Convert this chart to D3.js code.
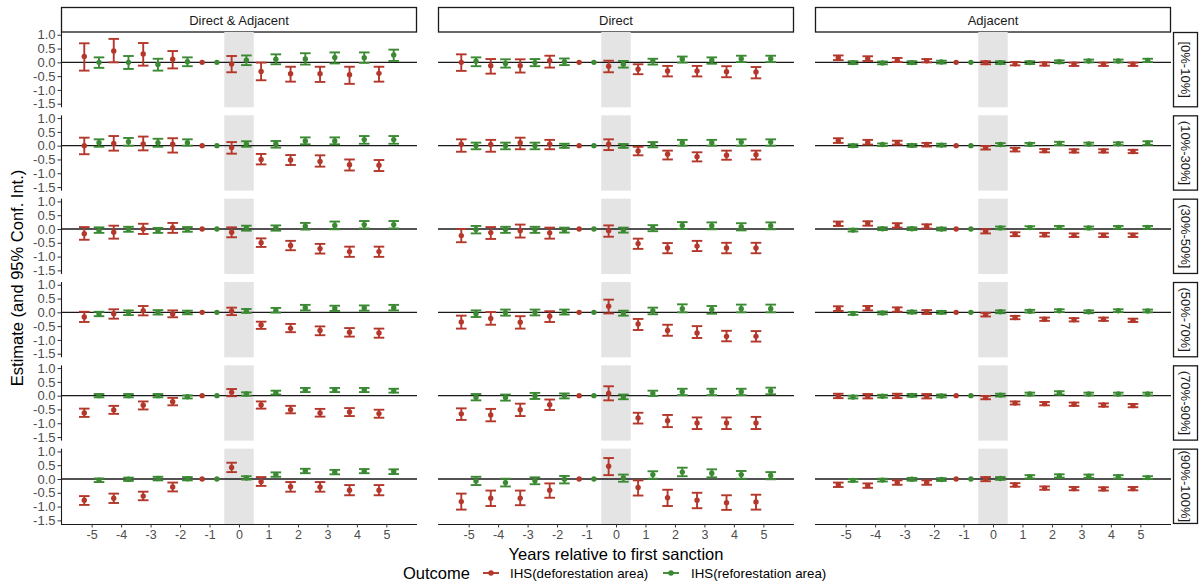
<!DOCTYPE html>
<html>
<head>
<meta charset="utf-8">
<script src="https://cdn.jsdelivr.net/npm/d3@7"></script>
<style>
    body { margin: 0; background: #ffffff; }
    #chart-event-study { width: 1200px; height: 588px; }
    text { font-family: "Liberation Sans", Arial, Helvetica, sans-serif; }
</style>
</head>
<body>
<div id="chart-event-study"></div>
<script>
// 연도, 패널 이름
var years = [-5, -4, -3, -2, -1, 0, 1, 2, 3, 4, 5];
var columnNames = ["Direct & Adjacent", "Direct", "Adjacent"];
var rowNames = ["[0%-10%]", "(10%-30%]", "(30%-50%]", "(50%-70%]", "(70%-90%]", "(90%-100%]"];
var outcomeNames = ["IHS(deforestation area)", "IHS(reforestation area)"];
var yTicks = [1.0, 0.5, 0.0, -0.5, -1.0, -1.5];

// [estimate, lower, upper] per year, one row per bin
var deforDirectAdj = [
    [[0.21,-0.30,0.69],[0.41,0.00,0.85],[0.30,-0.12,0.70],[0.11,-0.22,0.41],[0,0,0],[-0.06,-0.36,0.23],[-0.33,-0.65,-0.01],[-0.41,-0.70,-0.16],[-0.41,-0.71,-0.16],[-0.45,-0.78,-0.16],[-0.40,-0.70,-0.16]],
    [[0.00,-0.31,0.29],[0.08,-0.18,0.35],[0.06,-0.17,0.33],[0.05,-0.25,0.27],[0,0,0],[-0.07,-0.29,0.13],[-0.50,-0.68,-0.30],[-0.52,-0.70,-0.34],[-0.57,-0.76,-0.35],[-0.69,-0.90,-0.50],[-0.71,-0.92,-0.52]],
    [[-0.17,-0.39,0.07],[-0.12,-0.35,0.12],[0.00,-0.18,0.19],[0.05,-0.14,0.22],[0,0,0],[-0.12,-0.30,0.06],[-0.50,-0.65,-0.34],[-0.60,-0.77,-0.43],[-0.71,-0.89,-0.54],[-0.82,-1.01,-0.64],[-0.82,-1.01,-0.64]],
    [[-0.17,-0.35,0.02],[-0.05,-0.23,0.11],[0.06,-0.11,0.23],[-0.06,-0.18,0.07],[0,0,0],[0.04,-0.10,0.17],[-0.46,-0.60,-0.34],[-0.58,-0.72,-0.42],[-0.66,-0.83,-0.51],[-0.72,-0.88,-0.57],[-0.75,-0.92,-0.59]],
    [[-0.63,-0.77,-0.47],[-0.52,-0.66,-0.37],[-0.35,-0.50,-0.21],[-0.22,-0.35,-0.08],[0,0,0],[0.12,-0.02,0.24],[-0.34,-0.47,-0.21],[-0.51,-0.64,-0.37],[-0.63,-0.76,-0.48],[-0.59,-0.74,-0.45],[-0.65,-0.80,-0.51]],
    [[-0.77,-0.94,-0.62],[-0.70,-0.87,-0.53],[-0.62,-0.77,-0.46],[-0.29,-0.45,-0.13],[0,0,0],[0.42,0.25,0.59],[-0.10,-0.25,0.07],[-0.28,-0.46,-0.11],[-0.29,-0.46,-0.11],[-0.41,-0.59,-0.22],[-0.41,-0.59,-0.22]]
];
var reforDirectAdj = [
    [[0.00,-0.20,0.18],[0.00,-0.24,0.23],[-0.08,-0.30,0.13],[0.02,-0.14,0.18],[0,0,0],[0.08,-0.10,0.25],[0.11,-0.07,0.29],[0.12,-0.08,0.33],[0.18,-0.04,0.36],[0.17,-0.02,0.36],[0.27,0.05,0.46]],
    [[0.11,-0.04,0.23],[0.14,0.00,0.28],[0.11,-0.04,0.25],[0.11,0.00,0.23],[0,0,0],[0.06,-0.04,0.16],[0.06,-0.07,0.17],[0.17,0.05,0.30],[0.17,0.05,0.30],[0.22,0.07,0.35],[0.22,0.07,0.35]],
    [[-0.05,-0.14,0.06],[0.00,-0.10,0.08],[-0.06,-0.14,0.04],[-0.01,-0.10,0.07],[0,0,0],[0.04,-0.06,0.12],[0.04,-0.06,0.13],[0.10,-0.02,0.22],[0.13,-0.01,0.27],[0.16,0.02,0.29],[0.16,0.02,0.29]],
    [[-0.06,-0.14,0.02],[0.00,-0.10,0.07],[0.00,-0.08,0.08],[0.00,-0.07,0.06],[0,0,0],[0.06,-0.02,0.12],[0.07,-0.01,0.16],[0.17,0.07,0.27],[0.14,0.05,0.24],[0.16,0.06,0.25],[0.17,0.07,0.27]],
    [[0.00,-0.06,0.06],[0.00,-0.06,0.06],[0.00,-0.06,0.06],[-0.04,-0.10,0.01],[0,0,0],[0.06,0.00,0.12],[0.11,0.04,0.18],[0.21,0.13,0.28],[0.21,0.13,0.28],[0.21,0.13,0.28],[0.18,0.11,0.25]],
    [[-0.04,-0.11,0.02],[-0.01,-0.07,0.05],[0.02,-0.05,0.08],[0.01,-0.05,0.07],[0,0,0],[0.04,-0.02,0.10],[0.16,0.08,0.24],[0.29,0.21,0.37],[0.25,0.17,0.33],[0.28,0.21,0.36],[0.27,0.18,0.35]]
];
var deforDirect = [
    [[0.00,-0.31,0.29],[-0.12,-0.41,0.12],[-0.12,-0.37,0.11],[0.06,-0.19,0.24],[0,0,0],[-0.14,-0.36,0.06],[-0.25,-0.43,-0.07],[-0.31,-0.51,-0.13],[-0.31,-0.51,-0.13],[-0.34,-0.54,-0.14],[-0.35,-0.58,-0.17]],
    [[0.05,-0.22,0.23],[0.04,-0.22,0.21],[0.11,-0.13,0.29],[0.05,-0.13,0.21],[0,0,0],[0.05,-0.16,0.23],[-0.19,-0.35,-0.04],[-0.31,-0.50,-0.18],[-0.40,-0.57,-0.24],[-0.35,-0.51,-0.18],[-0.33,-0.50,-0.18]],
    [[-0.24,-0.48,0.00],[-0.13,-0.36,0.07],[-0.06,-0.31,0.16],[-0.14,-0.35,0.05],[0,0,0],[-0.06,-0.28,0.13],[-0.53,-0.72,-0.35],[-0.69,-0.88,-0.51],[-0.62,-0.80,-0.43],[-0.69,-0.88,-0.50],[-0.69,-0.88,-0.50]],
    [[-0.35,-0.59,-0.12],[-0.22,-0.45,0.01],[-0.36,-0.59,-0.14],[-0.14,-0.35,0.04],[0,0,0],[0.22,-0.04,0.46],[-0.42,-0.64,-0.24],[-0.66,-0.85,-0.45],[-0.75,-0.93,-0.50],[-0.87,-1.05,-0.67],[-0.87,-1.06,-0.68]],
    [[-0.66,-0.88,-0.46],[-0.70,-0.93,-0.48],[-0.51,-0.74,-0.29],[-0.33,-0.52,-0.14],[0,0,0],[0.08,-0.17,0.34],[-0.81,-1.01,-0.62],[-0.91,-1.14,-0.70],[-0.99,-1.21,-0.79],[-0.99,-1.21,-0.79],[-0.99,-1.21,-0.77]],
    [[-0.82,-1.11,-0.53],[-0.70,-0.98,-0.42],[-0.70,-0.95,-0.42],[-0.41,-0.68,-0.16],[0,0,0],[0.46,0.14,0.76],[-0.31,-0.60,-0.05],[-0.68,-0.98,-0.39],[-0.77,-1.06,-0.50],[-0.86,-1.12,-0.59],[-0.83,-1.11,-0.57]]
];
var reforDirect = [
    [[0.04,-0.14,0.18],[-0.04,-0.19,0.11],[-0.01,-0.14,0.12],[0.02,-0.10,0.14],[0,0,0],[-0.07,-0.19,0.05],[0.05,-0.08,0.13],[0.11,-0.01,0.21],[0.08,-0.05,0.18],[0.13,0.01,0.24],[0.13,0.01,0.24]],
    [[0.00,-0.13,0.11],[0.00,-0.13,0.11],[0.00,-0.13,0.11],[0.00,-0.08,0.07],[0,0,0],[0.00,-0.08,0.06],[0.05,-0.06,0.13],[0.11,0.00,0.21],[0.11,0.00,0.21],[0.13,0.00,0.23],[0.13,0.00,0.23]],
    [[-0.02,-0.16,0.11],[-0.02,-0.14,0.08],[-0.02,-0.14,0.08],[-0.04,-0.13,0.05],[0,0,0],[-0.04,-0.13,0.05],[0.04,-0.08,0.14],[0.13,0.00,0.25],[0.12,-0.01,0.24],[0.08,-0.05,0.21],[0.12,-0.01,0.24]],
    [[-0.05,-0.17,0.07],[-0.01,-0.12,0.10],[0.00,-0.11,0.10],[0.01,-0.08,0.10],[0,0,0],[-0.02,-0.12,0.06],[0.05,-0.07,0.17],[0.13,0.00,0.29],[0.10,-0.05,0.23],[0.13,0.00,0.28],[0.13,0.00,0.28]],
    [[-0.06,-0.17,0.06],[-0.07,-0.18,0.04],[-0.01,-0.12,0.10],[0.00,-0.10,0.08],[0,0,0],[-0.05,-0.13,0.04],[0.08,-0.01,0.18],[0.14,0.02,0.25],[0.14,0.02,0.25],[0.14,0.02,0.25],[0.17,0.05,0.29]],
    [[-0.07,-0.22,0.08],[-0.13,-0.27,0.01],[-0.06,-0.19,0.06],[-0.01,-0.16,0.11],[0,0,0],[0.04,-0.10,0.16],[0.16,0.01,0.28],[0.25,0.10,0.41],[0.21,0.06,0.35],[0.16,0.01,0.29],[0.13,-0.01,0.25]]
];
var deforAdj = [
    [[0.17,0.08,0.25],[0.13,0.05,0.22],[0.08,0.01,0.16],[0.06,0.00,0.12],[0,0,0],[-0.01,-0.07,0.04],[-0.05,-0.11,0.01],[-0.06,-0.12,0.00],[-0.07,-0.13,-0.01],[-0.07,-0.13,-0.01],[-0.07,-0.13,-0.01]],
    [[0.18,0.10,0.27],[0.12,0.04,0.21],[0.11,0.04,0.18],[0.04,-0.03,0.10],[0,0,0],[-0.07,-0.14,-0.01],[-0.14,-0.21,-0.08],[-0.18,-0.24,-0.12],[-0.19,-0.25,-0.13],[-0.19,-0.25,-0.13],[-0.21,-0.27,-0.15]],
    [[0.19,0.11,0.27],[0.21,0.12,0.28],[0.13,0.05,0.21],[0.10,0.02,0.17],[0,0,0],[-0.08,-0.16,-0.01],[-0.19,-0.26,-0.12],[-0.21,-0.27,-0.14],[-0.23,-0.29,-0.16],[-0.23,-0.29,-0.16],[-0.23,-0.29,-0.16]],
    [[0.13,0.05,0.22],[0.16,0.07,0.23],[0.10,0.02,0.18],[0.01,-0.06,0.08],[0,0,0],[-0.08,-0.15,-0.02],[-0.19,-0.25,-0.13],[-0.25,-0.31,-0.19],[-0.27,-0.33,-0.21],[-0.25,-0.31,-0.19],[-0.29,-0.35,-0.23]],
    [[-0.01,-0.09,0.07],[-0.02,-0.10,0.06],[-0.01,-0.09,0.07],[-0.02,-0.10,0.06],[0,0,0],[-0.07,-0.13,-0.01],[-0.27,-0.32,-0.21],[-0.29,-0.35,-0.23],[-0.31,-0.37,-0.25],[-0.34,-0.40,-0.28],[-0.36,-0.42,-0.30]],
    [[-0.21,-0.29,-0.13],[-0.24,-0.32,-0.16],[-0.13,-0.21,-0.05],[-0.13,-0.21,-0.05],[0,0,0],[0.00,-0.08,0.07],[-0.22,-0.28,-0.15],[-0.33,-0.39,-0.27],[-0.35,-0.41,-0.29],[-0.36,-0.42,-0.30],[-0.35,-0.41,-0.29]]
];
var reforAdj = [
    [[-0.01,-0.06,0.04],[-0.02,-0.07,0.03],[-0.01,-0.06,0.04],[0.01,-0.04,0.06],[0,0,0],[-0.01,-0.06,0.04],[-0.01,-0.06,0.04],[0.02,-0.03,0.07],[0.05,0.00,0.10],[0.05,0.00,0.10],[0.07,0.01,0.13]],
    [[0.00,-0.05,0.05],[0.04,-0.01,0.08],[0.01,-0.04,0.06],[0.02,-0.03,0.07],[0,0,0],[0.04,-0.01,0.09],[0.05,0.00,0.10],[0.08,0.02,0.14],[0.06,0.01,0.11],[0.07,0.02,0.12],[0.10,0.03,0.16]],
    [[-0.04,-0.09,0.01],[0.01,-0.04,0.06],[0.01,-0.04,0.06],[0.00,-0.05,0.05],[0,0,0],[0.04,-0.01,0.09],[0.05,0.00,0.10],[0.06,0.01,0.11],[0.04,-0.01,0.09],[0.06,0.01,0.11],[0.06,0.01,0.11]],
    [[-0.04,-0.09,0.01],[-0.02,-0.07,0.03],[0.01,-0.04,0.06],[0.00,-0.05,0.05],[0,0,0],[0.02,-0.03,0.07],[0.04,-0.01,0.09],[0.06,0.01,0.11],[0.02,-0.03,0.07],[0.06,0.01,0.11],[0.05,0.00,0.10]],
    [[-0.05,-0.10,0.00],[-0.02,-0.07,0.03],[0.01,-0.04,0.06],[-0.01,-0.06,0.04],[0,0,0],[0.02,-0.03,0.07],[0.06,0.01,0.11],[0.10,0.04,0.16],[0.06,0.01,0.11],[0.06,0.01,0.11],[0.06,0.01,0.11]],
    [[-0.05,-0.10,0.00],[-0.04,-0.09,0.01],[-0.01,-0.06,0.04],[-0.02,-0.07,0.03],[0,0,0],[0.02,-0.03,0.07],[0.08,0.02,0.14],[0.11,0.05,0.17],[0.10,0.04,0.16],[0.08,0.02,0.14],[0.05,0.00,0.10]]
];

var seriesByColumn = [
    [deforDirectAdj, reforDirectAdj],
    [deforDirect, reforDirect],
    [deforAdj, reforAdj]
];
var colors = ["#b3372a", "#3b8a33"];

var EventStudyChart = (function () {
    "use strict";

    var panelLeft = [61, 438, 815];
    var panelWidth = 356;
    var panelTop = 32;
    var panelHeight = 75.3;
    var rowStep = 83.33;
    var dodge = [-0.25, 0.25];
    var capHalf = 0.18;

    var draw = function () {
        var svg = d3
            .select("#chart-event-study")
            .append("svg")
            .attr("width", 1200)
            .attr("height", 588);

        var x = d3.scaleLinear().domain([-6.04, 6.04]).range([0, panelWidth]);
        var y = d3.scaleLinear().domain([-1.63, 1.10]).range([panelHeight, 0]);

        // 상단 strip
        columnNames.forEach(function (name, c) {
            var g = svg.append("g").attr("transform", "translate(" + panelLeft[c] + ",7)");
            g.append("rect")
                .attr("x", 0.5).attr("y", 0.5)
                .attr("width", panelWidth - 1).attr("height", 24.5)
                .style("fill", "#ffffff").style("stroke", "#1a1a1a").style("stroke-width", 1.3);
            g.append("text")
                .attr("x", panelWidth / 2).attr("y", 13)
                .attr("dy", "0.35em")
                .attr("text-anchor", "middle")
                .style("font-size", "13px").style("fill", "#1a1a1a")
                .text(name);
        });

        // 오른쪽 strip
        rowNames.forEach(function (name, r) {
            var top = panelTop + r * rowStep;
            var g = svg.append("g").attr("transform", "translate(1173," + top + ")");
            g.append("rect")
                .attr("x", 0.5).attr("y", 0.5)
                .attr("width", 24).attr("height", panelHeight - 1)
                .style("fill", "#ffffff").style("stroke", "#1a1a1a").style("stroke-width", 1.3);
            g.append("text")
                .attr("transform", "translate(12.5," + panelHeight / 2 + ") rotate(90)")
                .attr("dy", "0.35em")
                .attr("text-anchor", "middle")
                .style("font-size", "13px").style("fill", "#1a1a1a")
                .text(name);
        });

        seriesByColumn.forEach(function (pair, c) {
            rowNames.forEach(function (rowName, r) {
                var top = panelTop + r * rowStep;
                var panel = svg.append("g")
                    .attr("transform", "translate(" + panelLeft[c] + "," + top + ")");

                panel.append("rect")
                    .attr("x", x(-0.5)).attr("y", 0)
                    .attr("width", x(0.5) - x(-0.5)).attr("height", panelHeight)
                    .style("fill", "#e4e4e4");

                panel.append("line")
                    .attr("x1", 0).attr("x2", panelWidth)
                    .attr("y1", y(0)).attr("y2", y(0))
                    .style("stroke", "#1a1a1a").style("stroke-width", 1.3);

                pair.forEach(function (series, s) {
                    var rows = series[r].map(function (v, i) {
                        return { year: years[i], est: v[0], lo: v[1], hi: v[2] };
                    });
                    var g = panel.append("g")
                        .style("stroke", colors[s]).style("fill", colors[s]);

                    var bars = g.selectAll(".bar")
                        .data(rows.filter(function (d) { return d.hi > d.lo; }))
                        .enter().append("g").attr("class", "bar")
                        .style("stroke-width", 1.9);
                    bars.append("line")
                        .attr("x1", function (d) { return x(d.year + dodge[s]); })
                        .attr("x2", function (d) { return x(d.year + dodge[s]); })
                        .attr("y1", function (d) { return y(d.lo); })
                        .attr("y2", function (d) { return y(d.hi); });
                    bars.append("line")
                        .attr("x1", function (d) { return x(d.year + dodge[s] - capHalf); })
                        .attr("x2", function (d) { return x(d.year + dodge[s] + capHalf); })
                        .attr("y1", function (d) { return y(d.lo); })
                        .attr("y2", function (d) { return y(d.lo); });
                    bars.append("line")
                        .attr("x1", function (d) { return x(d.year + dodge[s] - capHalf); })
                        .attr("x2", function (d) { return x(d.year + dodge[s] + capHalf); })
                        .attr("y1", function (d) { return y(d.hi); })
                        .attr("y2", function (d) { return y(d.hi); });

                    g.selectAll(".pt")
                        .data(rows)
                        .enter().append("circle").attr("class", "pt")
                        .attr("cx", function (d) { return x(d.year + dodge[s]); })
                        .attr("cy", function (d) { return y(d.est); })
                        .attr("r", 2.7)
                        .style("stroke", "none");
                });

                // y 축 (왼쪽 열만)
                if (c === 0) {
                    var ya = panel.append("g")
                        .call(d3.axisLeft(y).tickValues(yTicks).tickFormat(d3.format(".1f")).tickSize(3.5).tickPadding(2));
                    ya.select(".domain").attr("d", "M0.5,0V" + panelHeight).style("stroke", "#1a1a1a").style("stroke-width", 1.1);
                    ya.selectAll(".tick line").style("stroke", "#333333");
                    ya.selectAll(".tick text")
                        .style("font-size", "13px").style("fill", "#4d4d4d")
                        .text(function (d) { return d3.format(".1f")(d).replace("−", "-"); });
                }

                // x 축 (마지막 행만)
                if (r === rowNames.length - 1) {
                    var xa = panel.append("g")
                        .attr("transform", "translate(0," + panelHeight + ")")
                        .call(d3.axisBottom(x).tickValues(years).tickFormat(d3.format("d")).tickSize(3.5).tickPadding(3));
                    xa.select(".domain").attr("d", "M0,0.5H" + panelWidth).style("stroke", "#1a1a1a").style("stroke-width", 1.1);
                    xa.selectAll(".tick line").style("stroke", "#333333");
                    xa.selectAll(".tick text")
                        .style("font-size", "12.5px").style("fill", "#4d4d4d")
                        .text(function (d) { return String(d); });
                }
            });
        });

        // 축 제목
        svg.append("text")
            .attr("x", (panelLeft[0] + panelLeft[2] + panelWidth) / 2)
            .attr("y", 554)
            .attr("dy", "0.35em")
            .attr("text-anchor", "middle")
            .style("font-size", "16.5px").style("fill", "#000000")
            .text("Years relative to first sanction");

        svg.append("text")
            .attr("transform", "translate(17," + (panelTop + (5 * rowStep + panelHeight) / 2) + ") rotate(-90)")
            .attr("dy", "0.35em")
            .attr("text-anchor", "middle")
            .style("font-size", "16.5px").style("fill", "#000000")
            .text("Estimate (and 95% Conf. Int.)");

        // 범례
        var legend = svg.append("g").attr("transform", "translate(0,573)");
        legend.append("text")
            .attr("x", 403).attr("dy", "0.35em")
            .style("font-size", "16.5px").style("fill", "#000000")
            .text("Outcome");
        var keyX = [491, 671];
        var labelX = [510, 691];
        outcomeNames.forEach(function (name, s) {
            legend.append("line")
                .attr("x1", keyX[s] - 8).attr("x2", keyX[s] + 8)
                .attr("y1", 0).attr("y2", 0)
                .style("stroke", colors[s]).style("stroke-width", 1.9);
            legend.append("circle")
                .attr("cx", keyX[s]).attr("cy", 0).attr("r", 2.7)
                .style("fill", colors[s]);
            legend.append("text")
                .attr("x", labelX[s]).attr("dy", "0.35em")
                .style("font-size", "13.3px").style("fill", "#000000")
                .text(name);
        });
    };

    return { draw: draw };
})();

EventStudyChart.draw();
</script>
</body>
</html>
